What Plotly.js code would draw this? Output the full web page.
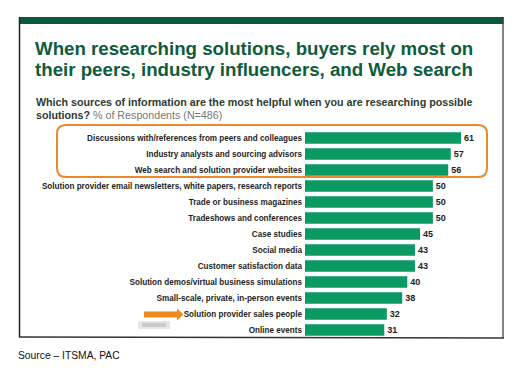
<!DOCTYPE html>
<html><head><meta charset="utf-8">
<script src="https://cdn.plot.ly/plotly-3.0.1.min.js"></script>
<style>html,body{margin:0;padding:0;background:#fff}#c{width:522px;height:370px}</style>
</head><body><div id="c"></div>
<script>
const categories = [
  "Discussions with/references from peers and colleagues",
  "Industry analysts and sourcing advisors",
  "Web search and solution provider websites",
  "Solution provider email newsletters, white papers, research reports",
  "Trade or business magazines",
  "Tradeshows and conferences",
  "Case studies",
  "Social media",
  "Customer satisfaction data",
  "Solution demos/virtual business simulations",
  "Small-scale, private, in-person events",
  "Solution provider sales people",
  "Online events"
];
const values = [61, 57, 56, 50, 50, 50, 45, 43, 43, 40, 38, 32, 31];
const titleLines = ["When researching solutions, buyers rely most on", "their peers, industry influencers, and Web search"];
const subtitle1 = "Which sources of information are the most helpful when you are researching possible";
const subtitle2a = "solutions?";
const subtitle2b = "% of Respondents (N=486)";
const sourceText = "Source – ITSMA, PAC";

const W = 522, H = 370;
const L = 305, T = 130, PW = 179, PH = 208;
const px = x => (x - L) / PW;
const py = y => (T + PH - y) / PH;

function roundRect(x0, y0, x1, y1, r) {
  const X = px, Y = py;
  return `M ${X(x0 + r)} ${Y(y0)} L ${X(x1 - r)} ${Y(y0)} Q ${X(x1)} ${Y(y0)} ${X(x1)} ${Y(y0 + r)} L ${X(x1)} ${Y(y1 - r)} Q ${X(x1)} ${Y(y1)} ${X(x1 - r)} ${Y(y1)} L ${X(x0 + r)} ${Y(y1)} Q ${X(x0)} ${Y(y1)} ${X(x0)} ${Y(y1 - r)} L ${X(x0)} ${Y(y0 + r)} Q ${X(x0)} ${Y(y0)} ${X(x0 + r)} ${Y(y0)} Z`;
}
function poly(points) {
  return "M " + points.map(p => px(p[0]) + " " + py(p[1])).join(" L ") + " Z";
}

const FONT = "Liberation Sans, Arial, sans-serif";

const trace = {
  type: "bar", orientation: "h",
  x: values, y: categories,
  marker: {color: "#0a9863", line: {width: 0}},
  width: 0.72,
  text: values.map(String), textposition: "outside", cliponaxis: false,
  textfont: {family: FONT, size: 9, color: "#222", weight: 700},
  hoverinfo: "none"
};

const paperShape = (o) => Object.assign({xref: "paper", yref: "paper"}, o);

const layout = {
  width: W, height: H,
  margin: {l: L, r: W - L - PW, t: T, b: H - T - PH, pad: 0},
  paper_bgcolor: "#fff", plot_bgcolor: "rgba(0,0,0,0)",
  showlegend: false,
  xaxis: {range: [0, 70], visible: false, fixedrange: true},
  yaxis: {
    autorange: "reversed", type: "category", showgrid: false, zeroline: false, showline: false,
    ticks: "", ticklabelstandoff: 2,
    tickfont: {family: FONT, size: 8.15, color: "#1e1e1e", weight: 700}
  },
  shapes: [
    paperShape({type: "rect", x0: px(19), x1: px(503.5), y0: py(24), y1: py(17), fillcolor: "#0c5a3d", line: {width: 0}, layer: "below"}),
    paperShape({type: "line", x0: px(19.5), x1: px(19.5), y0: py(17), y1: py(337), line: {color: "#222", width: 1.5}}),
    paperShape({type: "line", x0: px(503), x1: px(503), y0: py(17), y1: py(338), line: {color: "#333", width: 1.2}}),
    paperShape({type: "line", x0: px(19), x1: px(504), y0: py(337), y1: py(338), line: {color: "#333", width: 1.5}}),
    paperShape({type: "path", path: roundRect(57, 125, 487, 177, 9), line: {color: "#e8892b", width: 2}, fillcolor: "rgba(0,0,0,0)"}),
    paperShape({type: "path", path: poly([[138, 321], [170, 321], [170, 329], [138, 329]]), fillcolor: "rgba(140,140,140,0.22)", line: {width: 0}}),
    paperShape({type: "path", path: poly([[142, 323], [166, 323], [166, 327], [142, 327]]), fillcolor: "rgba(120,120,120,0.25)", line: {width: 0}}),
    paperShape({type: "path", path: poly([[144, 311.5], [177, 311.5], [177, 308.5], [183.5, 314.5], [177, 320.5], [177, 317.5], [144, 317.5]]), fillcolor: "#ea8a1f", line: {width: 0}})
  ],
  annotations: [
    {xref: "paper", yref: "paper", x: px(33), y: py(48), xanchor: "left", yanchor: "middle", showarrow: false,
     text: titleLines[0], font: {family: FONT, size: 18.7, color: "#0f5c3d", weight: 700}},
    {xref: "paper", yref: "paper", x: px(33), y: py(70), xanchor: "left", yanchor: "middle", showarrow: false,
     text: titleLines[1], font: {family: FONT, size: 18.7, color: "#0f5c3d", weight: 700}},
    {xref: "paper", yref: "paper", x: px(34), y: py(102), xanchor: "left", yanchor: "middle", showarrow: false,
     text: "<b>" + subtitle1 + "</b>", font: {family: FONT, size: 10.7, color: "#2c3b34"}},
    {xref: "paper", yref: "paper", x: px(34), y: py(115), xanchor: "left", yanchor: "middle", showarrow: false,
     text: "<b>" + subtitle2a + "</b> <span style='color:#777'>" + subtitle2b + "</span>", font: {family: FONT, size: 10.7, color: "#2c3b34"}},
    {xref: "paper", yref: "paper", x: px(16), y: py(355), xanchor: "left", yanchor: "middle", showarrow: false,
     text: sourceText, font: {family: FONT, size: 10.3, color: "#111"}}
  ]
};

Plotly.newPlot("c", [trace], layout, {displayModeBar: false, staticPlot: true});
</script></body></html>
